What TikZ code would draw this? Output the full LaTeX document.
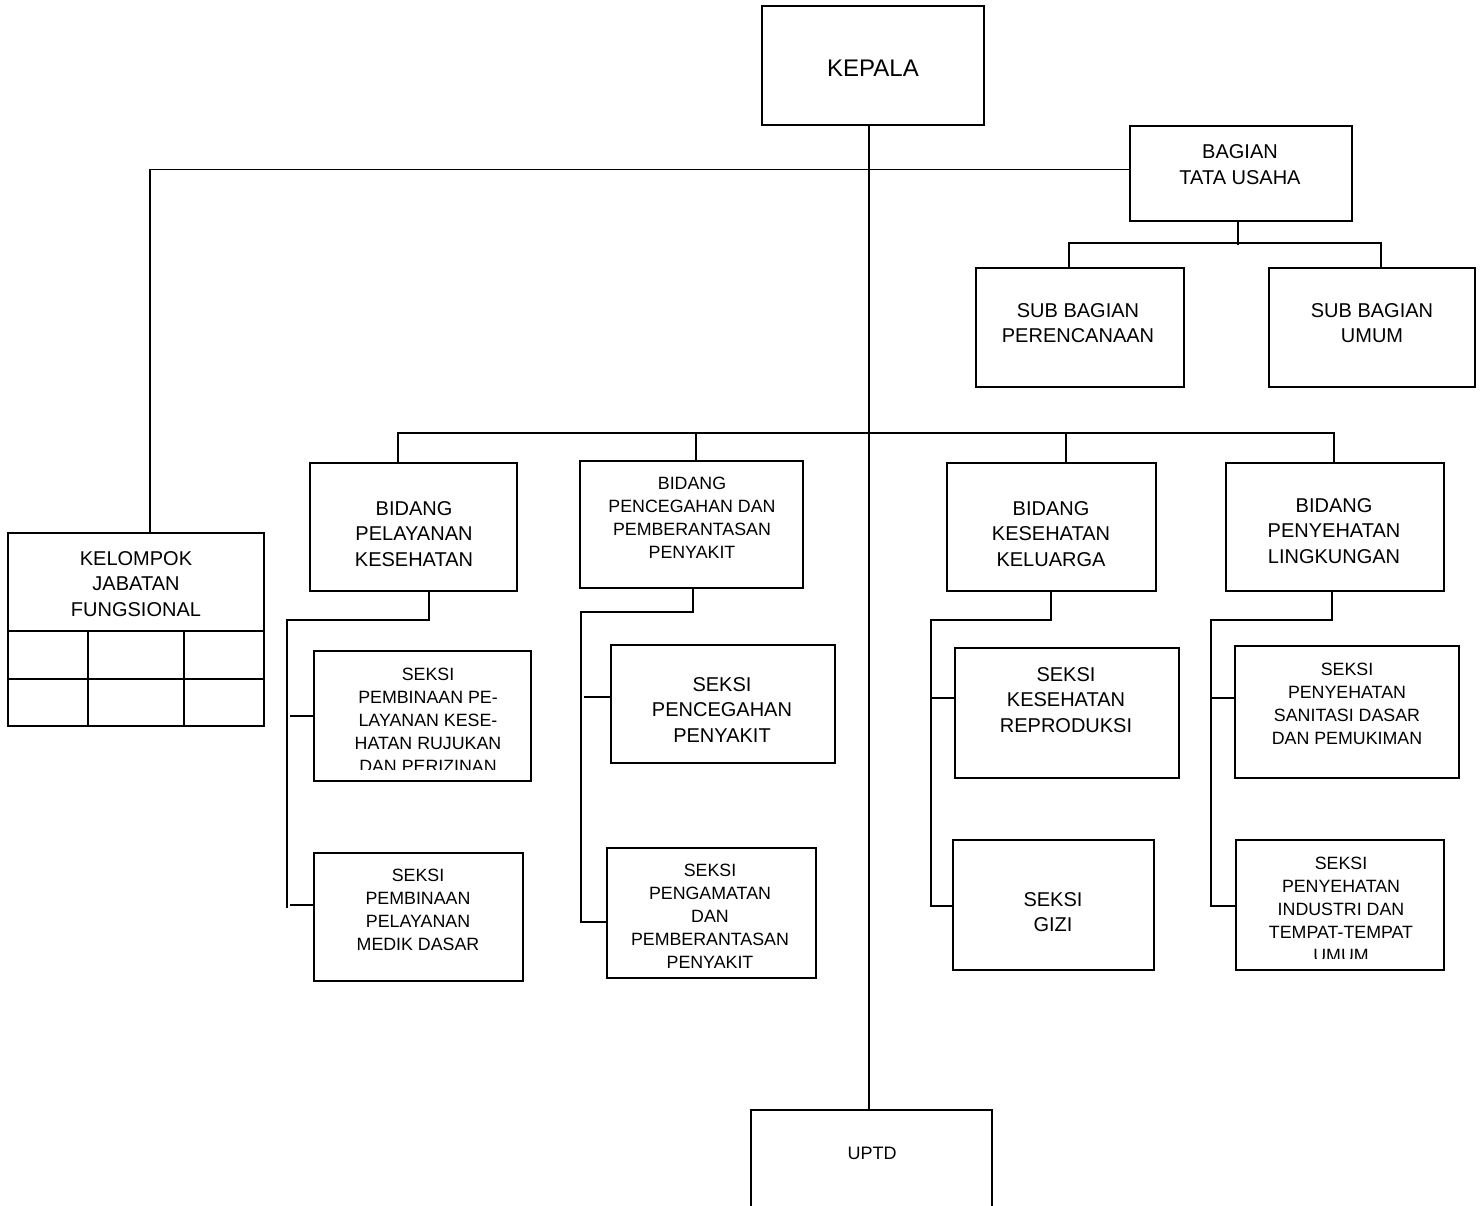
\documentclass[tikz,border=0pt]{standalone}
\usepackage{fontspec}
\setmainfont{Liberation Sans}
\usetikzlibrary{calc}
\begin{document}
\begin{tikzpicture}[x=1pt,y=-1pt,
 box/.style={draw, line width=1.8pt, inner sep=0pt},
 con/.style={line width=1.8pt},
 big/.style={align=center, font=\fontsize{20}{25.5}\selectfont, inner sep=0pt},
 small/.style={align=center, font=\fontsize{17.8}{23}\selectfont, inner sep=0pt}]

\useasboundingbox[fill=white] (0,0) rectangle (1483,1206);

% boxes
\node[box, minimum width=222pt, minimum height=119pt] (kepala) at (873,65.5) {};
\node[box, minimum width=222pt, minimum height=95pt] (bagian) at (1241,173.5) {};
\node[box, minimum width=208pt, minimum height=119pt] (sub1) at (1080,327.5) {};
\node[box, minimum width=206pt, minimum height=119pt] (sub2) at (1372,327.5) {};
\node[box, minimum width=256pt, minimum height=193pt] (kel) at (136,629.5) {};
\node[box, minimum width=207pt, minimum height=128pt] (b1) at (413.5,527) {};
\node[box, minimum width=223pt, minimum height=127pt] (b2) at (691.5,524.5) {};
\node[box, minimum width=209pt, minimum height=128pt] (b3) at (1051.5,527) {};
\node[box, minimum width=218pt, minimum height=128pt] (b4) at (1335,527) {};
\node[box, minimum width=217pt, minimum height=130pt] (s11) at (422.5,716) {};
\node[box, minimum width=209pt, minimum height=128pt] (s12) at (418.5,917) {};
\node[box, minimum width=224pt, minimum height=118pt] (s21) at (723,704) {};
\node[box, minimum width=209pt, minimum height=130pt] (s22) at (711.5,913) {};
\node[box, minimum width=224pt, minimum height=130pt] (s31) at (1067,713) {};
\node[box, minimum width=201pt, minimum height=130pt] (s32) at (1053.5,905) {};
\node[box, minimum width=224pt, minimum height=132pt] (s41) at (1347,712) {};
\node[box, minimum width=208pt, minimum height=130pt] (s42) at (1340,905) {};
\node[inner sep=0pt, minimum width=241pt, minimum height=105pt] (uptd) at (871.5,1162.5) {};
\draw[con] (uptd.south west) -- (uptd.north west) -- (uptd.north east) -- (uptd.south east);

% kelompok grid
\draw[con] (kel.west |- 0,631) -- (kel.east |- 0,631);
\draw[con] (kel.west |- 0,679) -- (kel.east |- 0,679);
\draw[con] (88,631) -- (kel.south -| 88,0);
\draw[con] (184,631) -- (kel.south -| 184,0);

% texts
\node[font=\fontsize{24}{28}\selectfont, inner sep=0pt] (tkepala) at (873,68) {KEPALA};
\node[big] (tbagian) at (1240,164.5) {BAGIAN\\TATA USAHA};
\node[big] (tsub1) at (1078,323) {SUB BAGIAN\\PERENCANAAN};
\node[big] (tsub2) at (1372,323) {SUB BAGIAN\\UMUM};
\node[big] (tkel) at (136,584) {KELOMPOK\\JABATAN\\FUNGSIONAL};
\node[big] (tb1) at (414,534) {BIDANG\\PELAYANAN\\KESEHATAN};
\node[small] (tb2) at (692,517.5) {BIDANG\\PENCEGAHAN DAN\\PEMBERANTASAN\\PENYAKIT};
\node[big] (tb3) at (1051,534) {BIDANG\\KESEHATAN\\KELUARGA};
\node[big] (tb4) at (1334,531) {BIDANG\\PENYEHATAN\\LINGKUNGAN};
\begin{scope}
\clip (314,651) rectangle (531,769);
\node[small] (ts11) at (428,720.5) {SEKSI\\PEMBINAAN PE-\\LAYANAN KESE-\\HATAN RUJUKAN\\DAN PERIZINAN};
\end{scope}
\node[small] (ts12) at (418,910) {SEKSI\\PEMBINAAN\\PELAYANAN\\MEDIK DASAR};
\node[big] (ts21) at (722,710) {SEKSI\\PENCEGAHAN\\PENYAKIT};
\node[small] (ts22) at (710,916.5) {SEKSI\\PENGAMATAN\\DAN\\PEMBERANTASAN\\PENYAKIT};
\node[big] (ts31) at (1066,700) {SEKSI\\KESEHATAN\\REPRODUKSI};
\node[big] (ts32) at (1053,912) {SEKSI\\GIZI};
\node[small] (ts41) at (1347,704) {SEKSI\\PENYEHATAN\\SANITASI DASAR\\DAN PEMUKIMAN};
\begin{scope}
\clip (1236,840) rectangle (1444,958);
\node[small] (ts42) at (1341,909.5) {SEKSI\\PENYEHATAN\\INDUSTRI DAN\\TEMPAT-TEMPAT\\UMUM};
\end{scope}
\node[font=\fontsize{18}{22}\selectfont, inner sep=0pt] (tuptd) at (872,1153) {UPTD};

% connectors
\draw[con] ([xshift=-4pt]kepala.south) -- ([xshift=-2.5pt]uptd.north);
\draw[con] ([xshift=14pt]kel.north) |- ([yshift=4pt]bagian.west);
\draw[con] ([xshift=-3pt]bagian.south) -- ++(0,23);
\draw[con] ([xshift=-11pt]sub1.north) -- ++(0,-24) -| ([xshift=9pt]sub2.north);
\draw[con] ([xshift=-15.5pt]b1.north) -- ++(0,-29) -| ([xshift=-1pt]b4.north);
\draw[con] ([xshift=4.5pt]b2.north) -- ++(0,-27);
\draw[con] ([xshift=14.5pt]b3.north) -- ++(0,-29);

\coordinate (e1) at (287,908);
\draw[con] ([xshift=15.5pt]b1.south) -- ++(0,28) -| (e1);
\draw[con] (s11.west) -- ++(-23,0);
\draw[con] (s12.west |- 0,905) -- ++(-23,0);

\coordinate (e2) at (581,922);
\draw[con] ([xshift=1.5pt]b2.south) -- ++(0,23) -| (e2);
\draw[con] (s21.west |- 0,697) -- ++(-26,0);
\draw[con] (s22.west |- 0,922) -- ++(-26,0);

\coordinate (e3) at (931,906);
\draw[con] ([xshift=-0.5pt]b3.south) -- ++(0,28) -| (e3);
\draw[con] (s31.west |- 0,698) -- ++(-24,0);
\draw[con] (s32.west |- 0,906) -- ++(-22,0);

\coordinate (e4) at (1211,906);
\draw[con] ([xshift=-3pt]b4.south) -- ++(0,28) -| (e4);
\draw[con] (s41.west |- 0,698) -- ++(-24,0);
\draw[con] (s42.west |- 0,906) -- ++(-25,0);
\end{tikzpicture}
\end{document}
